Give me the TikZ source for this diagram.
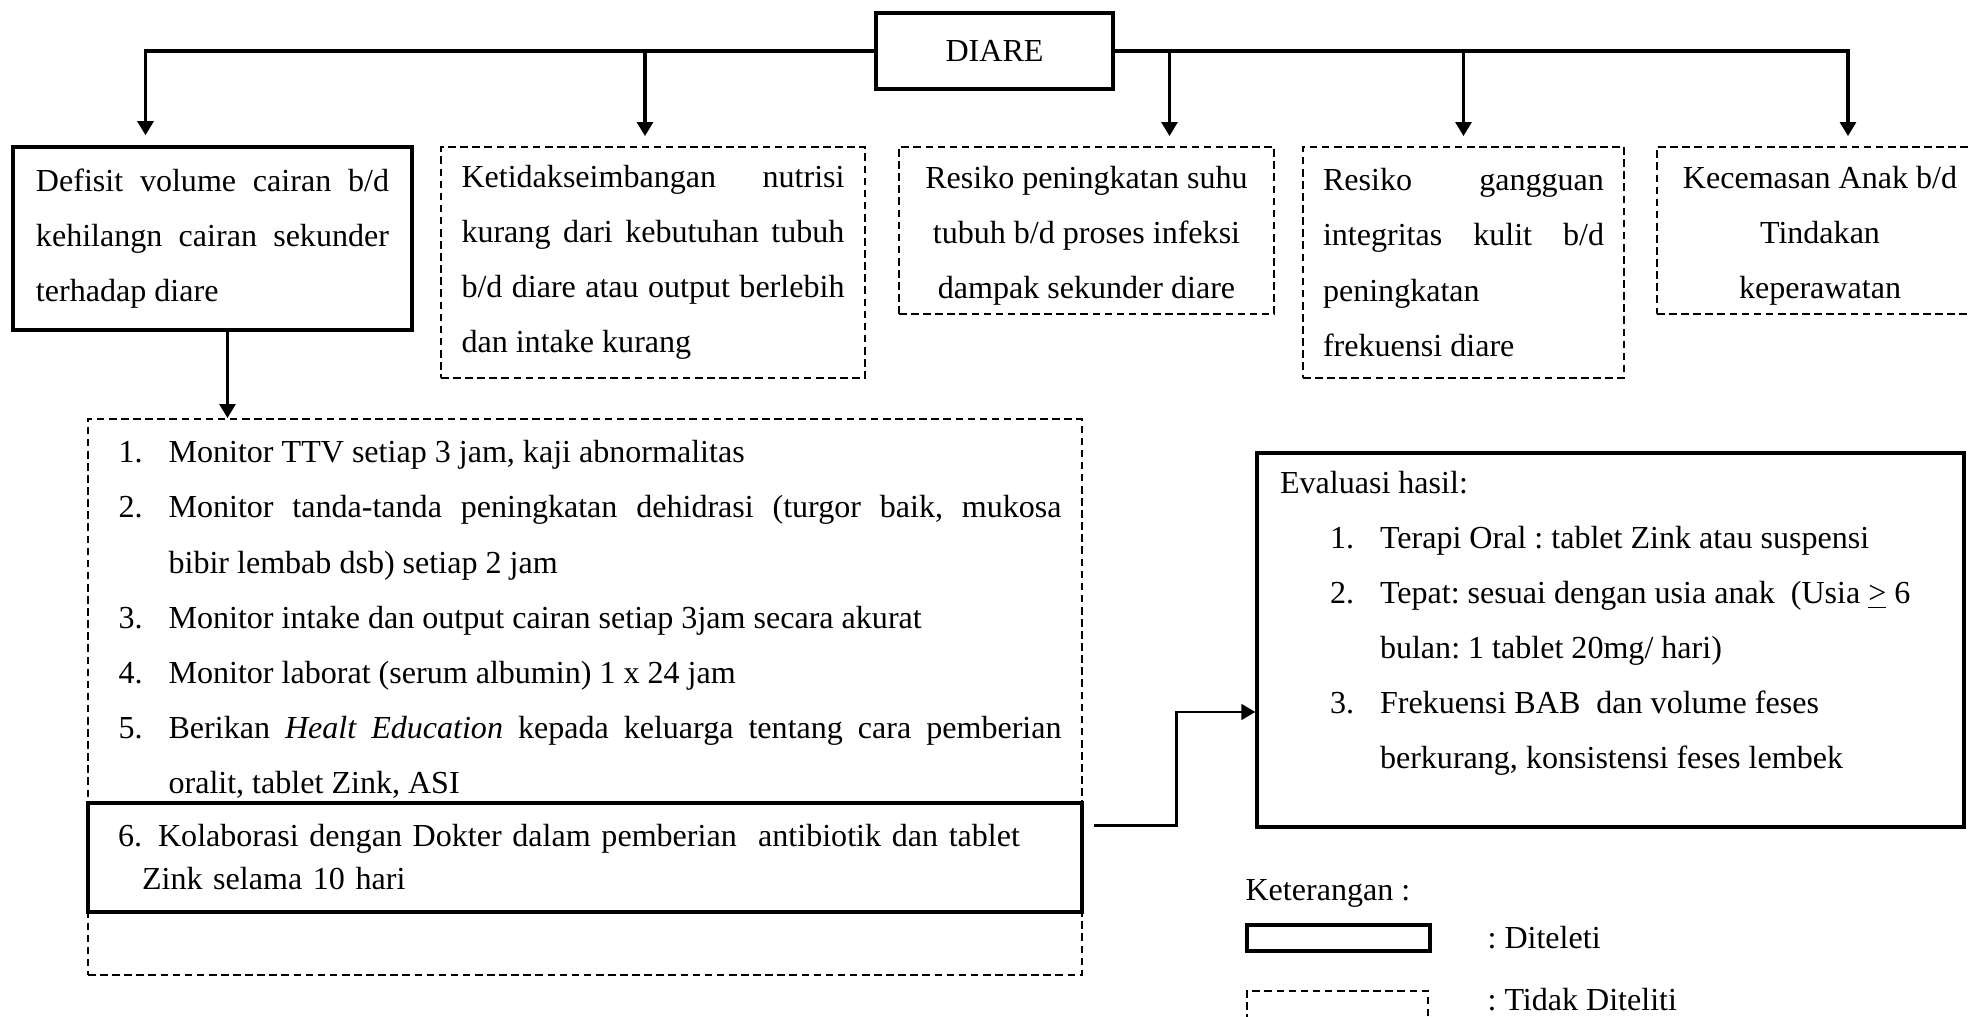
\documentclass[tikz,border=0pt]{standalone}
\usepackage{fontspec}
\setmainfont{Liberation Serif}
\usetikzlibrary{arrows.meta}

\newdimen\unitpx
\unitpx=0.0125cm
\hyphenpenalty=10000
\exhyphenpenalty=10000

% numbered line with hanging indent
\newcommand{\butir}[2][0]{\hangindent=\dimexpr#1\unitpx+50\unitpx\relax\hangafter=1\noindent\hspace*{#1\unitpx}\makebox[50\unitpx][l]{#2}}

\tikzset{
  teliti/.style={draw, line width=1.2pt, rectangle, inner sep=0pt},
  tdkteliti/.style={draw, line width=0.6pt, dash pattern=on 2.7pt off 1.6pt, rectangle, inner sep=0pt},
  panah/.style={line width=1.2pt, -{Triangle[length=5pt,width=5.6pt]}},
  huruf/.style={font=\fontsize{11.4}{19.6}\selectfont\frenchspacing},
}

\begin{document}
\begin{tikzpicture}[x=0.0125cm, y=-0.0125cm, huruf]
\useasboundingbox (0,0) rectangle (1968,1017);

% masalah
\node[teliti, minimum width=237\unitpx, minimum height=76\unitpx] (diare) at (994.5,51) {DIARE};
\node[teliti, minimum width=399\unitpx, minimum height=183\unitpx, text width=353\unitpx, align=justify] (dx1) at (212.5,238.5)
  {Defisit volume cairan b/d\linebreak kehilangn cairan sekunder\linebreak terhadap diare};
\node[tdkteliti, minimum width=424\unitpx, minimum height=231\unitpx, text width=383\unitpx, align=justify] (dx2) at (653,262.5)
  {Ketidakseimbangan nutrisi\linebreak kurang dari kebutuhan tubuh\linebreak b/d diare atau output berlebih\linebreak dan intake kurang};
\node[tdkteliti, minimum width=375\unitpx, minimum height=167\unitpx] (dx3) at (1086.5,230.5)
  {\parbox[c][129\unitpx][t]{350\unitpx}{\centering Resiko peningkatan suhu\\ tubuh b/d proses infeksi\\ dampak sekunder diare}};
\node[tdkteliti, minimum width=321\unitpx, minimum height=231\unitpx, text width=281\unitpx, align=justify] (dx4) at (1463.5,262.5)
  {Resiko gangguan\linebreak integritas kulit b/d\linebreak peningkatan\newline frekuensi diare};
\node[tdkteliti, minimum width=326\unitpx, minimum height=167\unitpx] (dx5) at (1820,230.5)
  {\parbox[c][129\unitpx][t]{300\unitpx}{\centering Kecemasan Anak b/d\\ Tindakan\\ keperawatan}};

% intervensi
\node[tdkteliti, minimum width=994\unitpx, minimum height=556\unitpx] (tindakan) at (585,697) {};
\node[anchor=north west, inner sep=0pt, text width=943\unitpx, align=justify] (intervensi) at (118,440) {%
\butir{1.}Monitor TTV setiap 3 jam, kaji abnormalitas\par
\butir{2.}Monitor tanda-tanda peningkatan dehidrasi (turgor baik, mukosa\linebreak bibir lembab dsb) setiap 2 jam\par
\butir{3.}Monitor intake dan output cairan setiap 3jam secara akurat\par
\butir{4.}Monitor laborat (serum albumin) 1 x 24 jam\par
\butir{5.}Berikan \textit{Healt Education} kepada keluarga tentang cara pemberian\linebreak oralit, tablet Zink, ASI\par};
\node[teliti, minimum width=994\unitpx, minimum height=109\unitpx, text width=934\unitpx, align=left, font=\fontsize{11.4}{15.3}\selectfont] (kolaborasi) at (585,857.5)
  {6. Kolaborasi dengan Dokter dalam pemberian\ \ antibiotik dan tablet\newline\hspace*{24\unitpx}Zink selama 10 hari};

% evaluasi
\node[teliti, minimum width=707\unitpx, minimum height=374\unitpx] (evaluasi) at (1610.5,640) {%
\parbox[c][338\unitpx][t]{661\unitpx}{\raggedright
Evaluasi hasil:\par
\butir[50]{1.}Terapi Oral : tablet Zink atau suspensi\par
\butir[50]{2.}Tepat: sesuai dengan usia anak\ \ (Usia \underline{>} 6\newline bulan: 1 tablet 20mg/ hari)\par
\butir[50]{3.}Frekuensi BAB\ \ dan volume feses\newline berkurang, konsistensi feses lembek\par}};

% keterangan
\node[anchor=west, inner sep=0pt] (ket) at (1245,893) {Keterangan :};
\node[teliti, minimum width=183\unitpx, minimum height=26\unitpx] (lg1) at (1338.5,938) {};
\node[anchor=west, inner sep=0pt] (lt1) at (1487,938) {: Diteleti};
\node[tdkteliti, minimum width=181\unitpx, minimum height=50\unitpx] (lg2) at (1337.5,1016) {};
\node[anchor=west, inner sep=0pt] (lt2) at (1487,1000) {: Tidak Diteliti};

% panah
\coordinate (t1) at ([shift={(-67,-10)}]dx1.north);
\coordinate (t2) at ([shift={(-8,-10)}]dx2.north);
\coordinate (t3) at ([shift={(83,-10)}]dx3.north);
\coordinate (t4) at ([shift={(0,-10)}]dx4.north);
\coordinate (t5) at ([shift={(28,-10)}]dx5.north);
\draw[panah] (diare.west) -| (t1);
\draw[panah] (diare.west -| t2) -- (t2);
\draw[panah] (diare.east) -| (t5);
\draw[panah] (diare.east -| t3) -- (t3);
\draw[panah] (diare.east -| t4) -- (t4);

\coordinate (a6) at ([shift={(15,0)}]dx1.south);
\draw[panah] (a6) -- (a6 |- tindakan.north);

\coordinate (k1) at ([shift={(10,24)}]kolaborasi.north east);
\coordinate (e1) at ([shift={(0,72)}]evaluasi.west);
\draw[panah, line width=1pt] (k1) -- ++(83,0) |- (e1);
\end{tikzpicture}
\end{document}
